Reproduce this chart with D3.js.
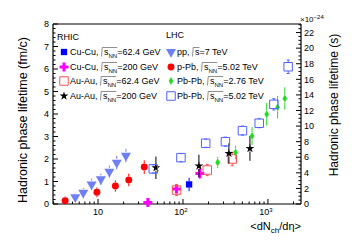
<!DOCTYPE html>
<html>
<head>
<meta charset="utf-8">
<script src="https://cdn.jsdelivr.net/npm/d3@7"></script>
<style>
  body { margin: 0; background: #fff; }
  svg { display: block; font-family: 'Liberation Sans', Arial, sans-serif; }
</style>
</head>
<body>
<div id="chart"></div>
<script>
// x = <dNch/deta>, y = lifetime (fm/c), e = stat. error
var ppX = [5.4, 6.7, 8.4, 10.8, 13.6, 16.6, 21.3],
    ppY = [0.30, 0.50, 0.87, 1.10, 1.44, 1.84, 2.15],
    ppE = [0.20, 0.22, 0.25, 0.25, 0.27, 0.30, 0.30];

var pPbX = [4.1, 9.7, 16, 23, 35],
    pPbY = [0.15, 0.52, 0.80, 1.07, 1.64],
    pPbE = [0.18, 0.22, 0.25, 0.28, 0.30];

var cuCu62X = [118],
    cuCu62Y = [0.87],
    cuCu62E = [0.30];

var cuCu200X = [38.6, 84, 158],
    cuCu200Y = [0.07, 0.67, 1.36],
    cuCu200E = [0.05, 0.20, 0.25];

var auAu62X = [84, 193, 380],
    auAu62Y = [0.62, 1.51, 2.00],
    auAu62E = [0.25, 0.25, 0.30];

var auAu200X = [48, 154, 347, 614],
    auAu200Y = [1.61, 1.69, 2.25, 2.47],
    auAu200E = [0.50, 0.50, 0.45, 0.55];

var pbPb276X = [256, 416, 650, 967, 1300, 1580],
    pbPb276Y = [1.85, 2.29, 3.02, 3.99, 4.30, 4.69],
    pbPb276E = [0.25, 0.30, 0.40, 0.50, 0.50, 0.50];

var pbPb502X = [44.7, 94.6, 185, 316, 501, 789, 1175, 1730],
    pbPb502Y = [1.56, 2.06, 2.70, 2.77, 3.26, 3.59, 4.43, 6.10],
    pbPb502E = [0.18, 0.18, 0.18, 0.20, 0.20, 0.20, 0.25, 0.30];

var xDomain = [2.95, 2450],
    yDomain = [0, 8],
    y2Domain = [0, 23.1],
    yTicks = [0, 1, 2, 3, 4, 5, 6, 7, 8],
    y2Ticks = [0, 2, 4, 6, 8, 10, 12, 14, 16, 18, 20, 22],
    xTicks = [10, 100, 1000],
    xTickExp = ['', '2', '3'];

var W = 355, H = 241,
    L = 53, R = 301, T = 24, B = 204;

var svg = d3.select('#chart').append('svg')
  .attr('width', W)
  .attr('height', H);

var x = d3.scaleLog().domain(xDomain).range([L, R]),
    y = d3.scaleLinear().domain(yDomain).range([B, T]),
    y2 = d3.scaleLinear().domain(y2Domain).range([B, T]);

// series
var series = [
  { xs: cuCu62X, ys: cuCu62Y, es: cuCu62E, type: 'square', color: '#0000ff', fill: true, size: 40, col: 0, row: 0,
    pre: 'Cu-Cu, ', sub: true, rest: '=62.4 GeV' },
  { xs: cuCu200X, ys: cuCu200Y, es: cuCu200E, type: 'cross', color: '#ff00ff', fill: true, size: 45, col: 0, row: 1,
    pre: 'Cu-Cu, ', sub: true, rest: '=200 GeV' },
  { xs: auAu62X, ys: auAu62Y, es: auAu62E, type: 'square', color: '#ff5050', fill: false, size: 72, col: 0, row: 2, cap: true,
    pre: 'Au-Au, ', sub: true, rest: '=62.4 GeV' },
  { xs: auAu200X, ys: auAu200Y, es: auAu200E, type: 'star', color: '#000000', fill: true, size: 24, col: 0, row: 3,
    pre: 'Au-Au, ', sub: true, rest: '=200 GeV' },
  { xs: ppX, ys: ppY, es: ppE, type: 'tri', color: '#6f7ff5', fill: true, size: 44, col: 1, row: 0,
    pre: 'pp, ', sub: false, rest: '=7 TeV' },
  { xs: pPbX, ys: pPbY, es: pPbE, type: 'circle', color: '#ff0000', fill: true, size: 38, col: 1, row: 1,
    pre: 'p-Pb, ', sub: true, rest: '=5.02 TeV' },
  { xs: pbPb276X, ys: pbPb276Y, es: pbPb276E, type: 'diamond', color: '#22dd22', fill: true, size: 19, col: 1, row: 2,
    pre: 'Pb-Pb, ', sub: true, rest: '=2.76 TeV' },
  { xs: pbPb502X, ys: pbPb502Y, es: pbPb502E, type: 'square', color: '#5060ff', fill: false, size: 72, col: 1, row: 3, cap: true,
    pre: 'Pb-Pb, ', sub: true, rest: '=5.02 TeV' }
];

var symType = {
  square: d3.symbolSquare,
  cross: d3.symbolCross,
  star: d3.symbolStar,
  tri: d3.symbolTriangle,
  circle: d3.symbolCircle,
  diamond: d3.symbolDiamond
};

function halfHeight( s )
{
  if( s.type === 'square' ) return Math.sqrt( s.size ) / 2;
  if( s.type === 'diamond' ) return Math.sqrt( s.size / ( 2 * Math.tan( Math.PI / 6 ) ) );
  return Math.sqrt( s.size ) / 2 + 0.5;
}

function marker( g, s, cx, cy )
{
  g.append('path')
    .attr('d', d3.symbol().type( symType[s.type] ).size( s.size ))
    .attr('transform', 'translate(' + cx + ',' + cy + ')' + ( s.type === 'tri' ? ' rotate(180)' : '' ))
    .attr('fill', s.fill ? s.color : 'none')
    .attr('stroke', s.fill ? 'none' : s.color)
    .attr('stroke-width', 1);
}

// axes frame
var axisColor = '#000';
svg.append('line').attr('x1', L).attr('x2', R).attr('y1', T).attr('y2', T)
  .attr('stroke', axisColor).attr('stroke-width', 1.2);
svg.append('line').attr('x1', L).attr('x2', R).attr('y1', B).attr('y2', B)
  .attr('stroke', axisColor).attr('stroke-width', 1.2);
svg.append('line').attr('x1', L).attr('x2', L).attr('y1', T).attr('y2', B)
  .attr('stroke', axisColor).attr('stroke-width', 1.2);
svg.append('line').attr('x1', R).attr('x2', R).attr('y1', T).attr('y2', B)
  .attr('stroke', axisColor).attr('stroke-width', 1.2);

// left axis ticks
var yMinor = d3.range( 0, 8.001, 0.2 );
svg.selectAll('line.ly').data( yMinor ).enter().append('line')
  .attr('class', 'ly')
  .attr('x1', L).attr('x2', function(d) { return Math.abs( d - Math.round(d) ) < 1e-6 ? L + 5 : L + 2.5; })
  .attr('y1', y).attr('y2', y)
  .attr('stroke', axisColor).attr('stroke-width', 1);
svg.selectAll('text.ly').data( yTicks ).enter().append('text')
  .attr('class', 'ly')
  .attr('x', L - 4).attr('y', function(d) { return y(d) + 3.2; })
  .attr('text-anchor', 'end')
  .attr('font-size', 9)
  .text(function(d) { return d; });

// right axis ticks
var y2Minor = d3.range( 0, 23.01, 0.5 );
svg.selectAll('line.ry').data( y2Minor ).enter().append('line')
  .attr('class', 'ry')
  .attr('x1', R).attr('x2', function(d) { return d % 2 === 0 ? R - 5 : R - 2.5; })
  .attr('y1', y2).attr('y2', y2)
  .attr('stroke', axisColor).attr('stroke-width', 1);
svg.selectAll('text.ry').data( y2Ticks ).enter().append('text')
  .attr('class', 'ry')
  .attr('x', R + 3).attr('y', function(d) { return y2(d) + 3.2; })
  .attr('font-size', 9)
  .text(function(d) { return d; });

var exp = svg.append('text').attr('x', R - 1).attr('y', T - 2).attr('font-size', 8);
exp.append('tspan').text('\u00d710');
exp.append('tspan').attr('dy', -3).attr('font-size', 6).text('\u221224');

// x axis ticks
var xMinor = [];
[1, 10, 100, 1000].forEach(function( dec )
{
  for( var k = 1; k < 10; k++ )
  {
    var v = dec * k;
    if( v >= xDomain[0] && v <= xDomain[1] ) xMinor.push( v );
  }
});
svg.selectAll('line.bx').data( xMinor ).enter().append('line')
  .attr('class', 'bx')
  .attr('x1', x).attr('x2', x)
  .attr('y1', B).attr('y2', function(d) { return xTicks.indexOf(d) >= 0 ? B - 5 : B - 2.5; })
  .attr('stroke', axisColor).attr('stroke-width', 1);
var xl = svg.selectAll('text.bx').data( xTicks ).enter().append('text')
  .attr('class', 'bx')
  .attr('x', function(d) { return x(d) - ( d > 10 ? 2 : 0 ); })
  .attr('y', B + 11)
  .attr('text-anchor', 'middle')
  .attr('font-size', 9);
xl.append('tspan').text('10');
xl.append('tspan').attr('dy', -3).attr('font-size', 6).text(function(d, i) { return xTickExp[i]; });

// titles
svg.append('text')
  .attr('transform', 'translate(27,' + ( ( T + B ) / 2 + 6 ) + ') rotate(-90)')
  .attr('text-anchor', 'middle')
  .attr('font-size', 12.5)
  .text('Hadronic phase lifetime (fm/c)');
svg.append('text')
  .attr('transform', 'translate(338,' + 105 + ') rotate(-90)')
  .attr('text-anchor', 'middle')
  .attr('font-size', 12)
  .text('Hadronic phase lifetime (s)');
var xt = svg.append('text')
  .attr('x', R).attr('y', 230)
  .attr('text-anchor', 'end')
  .attr('font-size', 11);
xt.append('tspan').text('<dN');
xt.append('tspan').attr('dy', 3).attr('font-size', 8).text('ch');
xt.append('tspan').attr('dy', -3).text('/d\u03b7>');

// data
var plot = svg.append('g');
series.forEach(function( s )
{
  var hh = halfHeight( s );
  s.xs.forEach(function( xv, i )
  {
    var cx = x( xv ),
        cy = y( s.ys[i] ),
        top = y( s.ys[i] + s.es[i] ),
        bot = y( s.ys[i] - s.es[i] );
    if( cy - top > hh )
    {
      plot.append('line').attr('x1', cx).attr('x2', cx).attr('y1', top).attr('y2', cy - hh)
        .attr('stroke', s.color).attr('stroke-width', 1);
    }
    if( bot - cy > hh )
    {
      plot.append('line').attr('x1', cx).attr('x2', cx).attr('y1', cy + hh).attr('y2', bot)
        .attr('stroke', s.color).attr('stroke-width', 1);
    }
    if( s.cap )
    {
      plot.append('line').attr('x1', cx - 1.5).attr('x2', cx + 1.5).attr('y1', top).attr('y2', top)
        .attr('stroke', s.color).attr('stroke-width', 1);
      plot.append('line').attr('x1', cx - 1.5).attr('x2', cx + 1.5).attr('y1', bot).attr('y2', bot)
        .attr('stroke', s.color).attr('stroke-width', 1);
    }
    marker( plot, s, cx, cy );
  });
});

// legend
var legX = [64, 171],
    legY = [52, 67, 81, 96],
    legFont = 9;

svg.append('text').attr('x', 57).attr('y', 40).attr('font-size', legFont).text('RHIC');
svg.append('text').attr('x', 166).attr('y', 38).attr('font-size', legFont).text('LHC');

series.forEach(function( s )
{
  var mx = legX[ s.col ],
      my = legY[ s.row ],
      t, n, sx, ex;

  marker( svg, s, mx, my );

  t = svg.append('text')
    .attr('x', mx + 6)
    .attr('y', my + 3.2)
    .attr('font-size', legFont);
  t.append('tspan').text( s.pre );
  t.append('tspan').attr('dx', 3).text('s');
  if( s.sub )
  {
    t.append('tspan').attr('dy', 2.5).attr('font-size', 6).text('NN');
    t.append('tspan').attr('dy', -2.5).text( s.rest );
  }
  else
  {
    t.append('tspan').text( s.rest );
  }

  n = t.node();
  sx = n.getStartPositionOfChar( s.pre.length ).x;
  ex = n.getStartPositionOfChar( s.pre.length + ( s.sub ? 3 : 1 ) ).x;
  svg.append('path')
    .attr('d', 'M' + ( sx - 2.5 ) + ',' + ( my + 4.5 ) + 'L' + ( sx - 1.8 ) + ',' + ( my - 4.5 ) + 'L' + ex + ',' + ( my - 4.5 ))
    .attr('fill', 'none')
    .attr('stroke', '#444')
    .attr('stroke-width', 0.6);
});
</script>
</body>
</html>
